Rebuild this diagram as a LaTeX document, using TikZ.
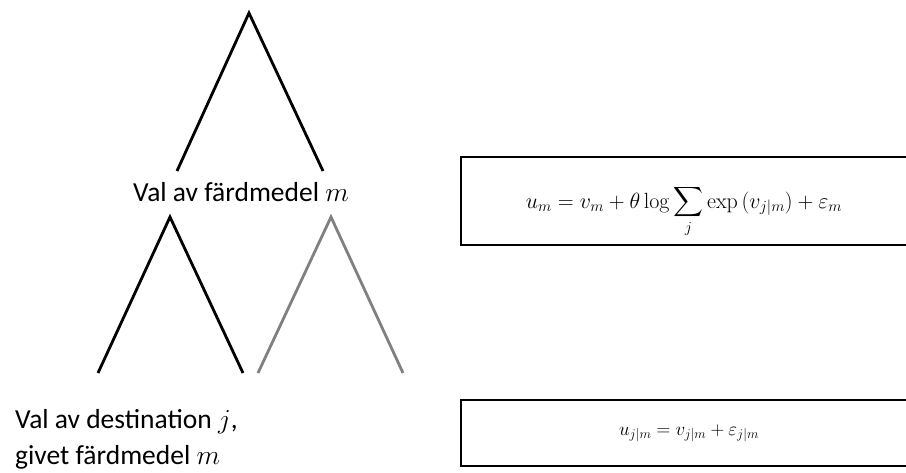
\RequirePackage{fix-cm}
\documentclass[tikz,border=0pt]{standalone}
\usepackage{amsmath}
\usepackage[no-math]{fontspec}
\setmainfont{Carlito}
\begin{document}
\begin{tikzpicture}[x=1pt,y=-1pt,
  branch/.style={line width=2.8pt,black},
  greybranch/.style={line width=2.8pt,color={rgb,255:red,128;green,128;blue,128}},
  label/.style={inner sep=0pt},
  eqbox/.style={draw,line width=1.8pt,inner sep=0pt,minimum width=454pt},
  eqtext/.style={inner sep=0pt}]
\useasboundingbox (0,0) rectangle (906,472);
% top branch
\coordinate (ta) at (249,13);
\coordinate (tl) at (177,171);
\coordinate (tr) at (323,171);
\draw[branch] (tl) -- (ta) -- (tr);
% lower black branch
\coordinate (ba) at (170,217);
\coordinate (bl) at (98,373);
\coordinate (br) at (243,373);
\draw[branch] (bl) -- (ba) -- (br);
% lower grey branch
\coordinate (ga) at (331,217);
\coordinate (gl) at (258,373);
\coordinate (gr) at (403,373);
\draw[greybranch] (gl) -- (ga) -- (gr);
% labels
\node[label,anchor=base west] (lm) at (133,201) {\fontsize{27.5}{33}\selectfont Val av färdmedel $m$};
\node[label,anchor=base west] (ld1) at (15,428) {\fontsize{27.5}{33}\selectfont Val av destination $j$,};
\node[label,anchor=base west] (ld2) at (15,464) {\fontsize{27.5}{33}\selectfont givet färdmedel $m$};
% boxes
\node[eqbox,minimum height=88pt] (box1) at (688,201) {};
\node[eqtext,anchor=base] (eq1) at (684,208) {\fontsize{22}{26}\selectfont $u_m = v_m + \theta\log\displaystyle\sum_j \exp\,(v_{j|m}) + \varepsilon_m$};
\node[eqbox,minimum height=66pt] (box2) at (688,433) {};
\node[eqtext,anchor=base] (eq2) at (689,435) {\fontsize{19}{23}\selectfont $u_{j|m} = v_{j|m} + \varepsilon_{j|m}$};
\end{tikzpicture}
\end{document}
